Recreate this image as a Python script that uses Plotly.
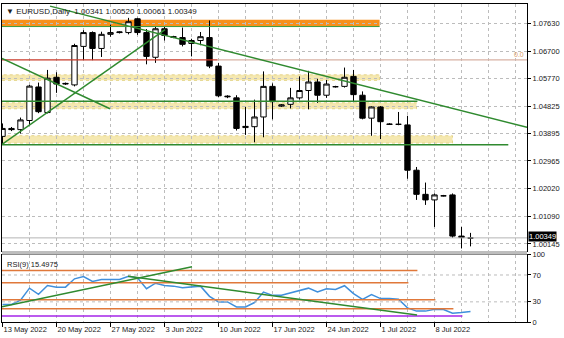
import plotly.graph_objects as go
from plotly.subplots import make_subplots

# ---------------- data ----------------
dates = ["2022-05-13", "2022-05-15", "2022-05-16", "2022-05-17", "2022-05-18", "2022-05-19",
         "2022-05-20", "2022-05-22", "2022-05-23", "2022-05-24", "2022-05-25", "2022-05-26",
         "2022-05-27", "2022-05-29", "2022-05-30", "2022-05-31", "2022-06-01", "2022-06-02",
         "2022-06-03", "2022-06-05", "2022-06-06", "2022-06-07", "2022-06-08", "2022-06-09",
         "2022-06-10", "2022-06-12", "2022-06-13", "2022-06-14", "2022-06-15", "2022-06-16",
         "2022-06-17", "2022-06-19", "2022-06-20", "2022-06-21", "2022-06-22", "2022-06-23",
         "2022-06-24", "2022-06-26", "2022-06-27", "2022-06-28", "2022-06-29", "2022-06-30",
         "2022-07-01", "2022-07-03", "2022-07-04", "2022-07-05", "2022-07-06", "2022-07-07",
         "2022-07-08", "2022-07-10", "2022-07-11", "2022-07-12", "2022-07-13"]

opens = [1.0380, 1.0407, 1.0403, 1.0434, 1.0548, 1.0461, 1.0581, 1.0558, 1.0555, 1.0686,
         1.0733, 1.0679, 1.0727, 1.0733, 1.0733, 1.0780, 1.0733, 1.0649, 1.0746, 1.0719,
         1.0716, 1.0696, 1.0706, 1.0716, 1.0619, 1.0517, 1.0511, 1.0410, 1.0413, 1.0446,
         1.0550, 1.0483, 1.0489, 1.0511, 1.0536, 1.0565, 1.0520, 1.0549, 1.0550, 1.0584,
         1.0520, 1.0442, 1.0480, 1.0422, 1.0421, 1.0419, 1.0265, 1.0183, 1.0164, 1.0178,
         1.0181, 1.0041, 1.00341]
highs = [1.0424, 1.0412, 1.0444, 1.0555, 1.0563, 1.0606, 1.0598, 1.0563, 1.0695, 1.0741,
         1.0737, 1.0736, 1.0760, 1.0737, 1.0783, 1.0783, 1.0745, 1.0752, 1.0752, 1.0722,
         1.0750, 1.0712, 1.0735, 1.0774, 1.0630, 1.0520, 1.0520, 1.0480, 1.0505, 1.0601,
         1.0560, 1.0490, 1.0545, 1.0584, 1.0603, 1.0576, 1.0572, 1.0552, 1.0614, 1.0606,
         1.0533, 1.0482, 1.0483, 1.0425, 1.0463, 1.0450, 1.0276, 1.0223, 1.0186, 1.0181,
         1.0186, 1.0072, 1.00520]
lows = [1.0352, 1.0398, 1.0390, 1.0420, 1.0459, 1.0458, 1.0528, 1.0555, 1.0550, 1.0640,
        1.0639, 1.0650, 1.0719, 1.0730, 1.0727, 1.0725, 1.0625, 1.0630, 1.0706, 1.0714,
        1.0686, 1.0652, 1.0690, 1.0612, 1.0513, 1.0510, 1.0400, 1.0385, 1.0360, 1.0377,
        1.0438, 1.0480, 1.0475, 1.0505, 1.0472, 1.0494, 1.0511, 1.0546, 1.0546, 1.0500,
        1.0438, 1.0382, 1.0371, 1.0419, 1.0418, 1.0236, 1.0164, 1.0147, 1.0072, 1.0176,
        1.0035, 0.9999, 1.00061]
closes = [1.0407, 1.0403, 1.0436, 1.0551, 1.0464, 1.0578, 1.0558, 1.0560, 1.0689, 1.0733,
          1.0679, 1.0727, 1.0733, 1.0735, 1.0770, 1.0733, 1.0652, 1.0746, 1.0723, 1.0717,
          1.0693, 1.0706, 1.0719, 1.0619, 1.0518, 1.0515, 1.0407, 1.0414, 1.0446, 1.0550,
          1.0498, 1.0487, 1.0511, 1.0536, 1.0565, 1.0520, 1.0558, 1.0549, 1.0581, 1.0522,
          1.0442, 1.0480, 1.0430, 1.0421, 1.0421, 1.0265, 1.0183, 1.0164, 1.0181, 1.0178,
          1.0041, 1.0036, 1.00349]

rsi = [26.0, 26.0, 32.4, 50.4, 41.2, 54.4, 51.9, 51.9, 64.3, 67.6,
       60.3, 63.2, 63.2, 63.2, 68.1, 65.7, 49.6, 57.8, 54.4, 53.4,
       51.0, 51.9, 53.4, 38.2, 29.9, 29.9, 22.5, 22.5, 29.0, 44.6,
       39.7, 39.7, 43.4, 47.1, 50.4, 44.6, 49.6, 48.5, 54.0, 42.2,
       33.8, 40.7, 34.9, 34.9, 33.8, 21.0, 16.2, 16.2, 19.1, 18.7,
       13.2, 14.0, 15.5]

tick_dates = ["2022-05-13", "2022-05-20", "2022-05-27", "2022-06-03", "2022-06-10",
              "2022-06-17", "2022-06-24", "2022-07-01", "2022-07-08"]
tick_labels = ["13 May 2022", "20 May 2022", "27 May 2022", "3 Jun 2022", "10 Jun 2022",
               "17 Jun 2022", "24 Jun 2022", "1 Jul 2022", "8 Jul 2022"]
price_ticks = [1.07630, 1.06700, 1.05770, 1.04825, 1.03895, 1.02965, 1.02020, 1.01090, 1.00145]
rsi_ticks = [0, 30, 70, 100]

last_price = 1.00349
rsi_last = 15.4975

# drawn objects on the price chart (bar index end, prices)
orange_zone = (41.9, 1.0755, 1.0777)
yellow_zones = [(41.9, 1.05705, 1.05893), (46.0, 1.04740, 1.04942), (50.0, 1.03574, 1.03823)]
green_levels = [(41.9, 1.07535), (46.1, 1.04999), (56.2, 1.03514)]
red_level = (23.9, 1.0640)
green_trends = [((5.28, 1.0823), (58.28, 1.04107)),
                ((-0.06, 1.0353), (18.06, 1.0743)),
                ((-0.06, 1.06454), (11.94, 1.04740))]
# drawn objects on the RSI panel
rsi_orange_levels = [(46.1, 76.5), (45.1, 58.4), (48.1, 33.1), (50.1, 19.9)]
rsi_purple_level = (51.1, 9.0)
rsi_trends = [((-0.06, 22.8), (21.06, 82.4)), ((13.94, 68.1), (46.06, 10.3))]

# ---------------- figure ----------------
xs = list(range(len(dates)))
tick_pos = [dates.index(d) for d in tick_dates]

W, H = 564, 338
ML, MR, MT, MB = 2, 37, 0, 16
plot_h = H - MT - MB            # 322
main_bottom_px, rsi_top_px = 250, 254
x0 = -0.5 / 9
x1 = x0 + (W - ML - MR) / 9
y_top = 1.0763 + 20 / 2978
y_bot = 1.0763 - 230 / 2978

FONT = "Liberation Sans"
GRID = "#bcbcbc"

fig = make_subplots(rows=2, cols=1, shared_xaxes=True)

fig.add_trace(go.Candlestick(
    x=xs, open=opens, high=highs, low=lows, close=closes,
    increasing=dict(line=dict(color="black", width=1), fillcolor="white"),
    decreasing=dict(line=dict(color="black", width=1), fillcolor="black"),
    whiskerwidth=0, hoverinfo="skip"), row=1, col=1)

fig.add_trace(go.Scatter(x=xs, y=rsi, mode="lines",
                         line=dict(color="#3f8fdc", width=1.5), hoverinfo="skip"),
              row=2, col=1)

shapes = []
def line(xa, ya, xb, yb, color, width, xr="x", yr="y", dash=None):
    d = dict(type="line", xref=xr, yref=yr, x0=xa, y0=ya, x1=xb, y1=yb,
             line=dict(color=color, width=width), layer="above")
    if dash:
        d["line"]["dash"] = dash
    shapes.append(d)

# yellow zones
for xe, lo, hi in yellow_zones:
    shapes.append(dict(type="rect", xref="x", yref="y", x0=x0, x1=xe, y0=lo, y1=hi,
                       fillcolor="#f5e8b0", line=dict(color="#e4d488", width=1, dash="dot"),
                       layer="below"))
# orange zone
shapes.append(dict(type="rect", xref="x", yref="y", x0=x0, x1=orange_zone[0],
                   y0=orange_zone[1], y1=orange_zone[2], fillcolor="#f7901c",
                   line=dict(width=0), layer="below"))
# red / tan fibo level
line(x0, red_level[1], red_level[0], red_level[1], "#c83a2a", 1.2)
line(red_level[0], red_level[1], x1, red_level[1], "#d8b2a4", 1.2)
# green horizontals
for i, (xe, p) in enumerate(green_levels):
    line(x0, p, xe, p, "#3c9a3c" if i == 0 else "#2f8a2f", 1 if i == 0 else 1.5)
# green trend lines
for (xa, ya), (xb, yb) in green_trends:
    line(xa, ya, xb, yb, "#2f8a2f", 1.5)
# current price line
line(x0, last_price, x1, last_price, "#b4b4b4", 1)

# RSI panel objects
line(x0, 70, x1, 70, GRID, 1, "x2", "y2", "dot")
line(x0, 30, x1, 30, GRID, 1, "x2", "y2", "dot")
for xe, lv in rsi_orange_levels:
    line(x0, lv, xe, lv, "#e0783a", 1.5, "x2", "y2")
line(x0, rsi_purple_level[1], rsi_purple_level[0], rsi_purple_level[1], "#a424e8", 1.5, "x2", "y2")
for (xa, ya), (xb, yb) in rsi_trends:
    line(xa, ya, xb, yb, "#2f8a2f", 1.5, "x2", "y2")

# separator between panels
shapes.append(dict(type="rect", xref="paper", yref="paper", x0=0, x1=1,
                   y0=(plot_h - rsi_top_px) / plot_h, y1=(plot_h - main_bottom_px) / plot_h,
                   fillcolor="#bdbdbd", line=dict(width=0), layer="above"))

annotations = [
    dict(xref="paper", yref="paper", x=0.0, y=1.0, xanchor="left", yanchor="top",
         xshift=2, yshift=-1, showarrow=False,
         text="\u25bc EURUSD,Daily  1.00341 1.00520 1.00061 1.00349",
         font=dict(family=FONT, size=8, color="#202020")),
    dict(xref="paper", yref="y2", x=0.0, y=85.3, xanchor="left", yanchor="middle",
         xshift=3, showarrow=False, text="RSI(9) %.4f" % rsi_last,
         font=dict(family=FONT, size=7.5, color="#202020")),
    dict(xref="paper", yref="y", x=1.0, y=last_price, xanchor="left", yanchor="middle",
         xshift=1, yshift=1, showarrow=False, text="%.5f" % last_price, bgcolor="black",
         borderpad=0, font=dict(family=FONT, size=7.5, color="white")),
    dict(xref="x", yref="y", x=x1, y=1.0659, xanchor="right", yanchor="middle",
         xshift=-1, showarrow=False, text="0.0",
         font=dict(family=FONT, size=7, color="#dd9a66")),
]

xcommon = dict(range=[x0, x1], tickmode="array", tickvals=tick_pos, ticktext=tick_labels,
               showgrid=True, gridcolor=GRID, griddash="dot", gridwidth=1,
               minor=dict(tickmode="linear", tick0=0, dtick=3, showgrid=True,
                          gridcolor=GRID, griddash="dot", gridwidth=1),
               showline=True, linecolor="black", linewidth=1, mirror=True,
               zeroline=False, fixedrange=True)

fig.update_layout(
    width=W, height=H, margin=dict(l=ML, r=MR, t=MT, b=MB),
    paper_bgcolor="white", plot_bgcolor="white", showlegend=False, hovermode=False,
    boxgap=0.15,
    xaxis=dict(xcommon, showticklabels=False, ticks="", rangeslider=dict(visible=False)),
    xaxis2=dict(xcommon, showticklabels=True, ticks="outside", ticklen=4,
                tickcolor="black", ticklabelposition="outside right",
                tickfont=dict(family=FONT, size=7.5, color="#202020")),
    yaxis=dict(domain=[(plot_h - main_bottom_px) / plot_h, 1.0], range=[y_bot, y_top],
               side="right", tickmode="array", tickvals=price_ticks,
               ticktext=["%.5f" % v for v in price_ticks],
               showgrid=True, gridcolor=GRID, griddash="dot", gridwidth=1,
               ticks="outside", ticklen=3, tickcolor="black",
               showline=True, linecolor="black", linewidth=1, mirror=True,
               zeroline=False, fixedrange=True,
               tickfont=dict(family=FONT, size=7.5, color="#202020")),
    yaxis2=dict(domain=[0.0, (plot_h - rsi_top_px) / plot_h], range=[0, 100],
                side="right", tickmode="array", tickvals=rsi_ticks,
                showgrid=False, ticks="outside", ticklen=3, tickcolor="black",
                showline=True, linecolor="black", linewidth=1, mirror=True,
                zeroline=False, fixedrange=True,
                tickfont=dict(family=FONT, size=7.5, color="#202020")),
    shapes=shapes, annotations=annotations,
)

fig.write_html("out.html")
